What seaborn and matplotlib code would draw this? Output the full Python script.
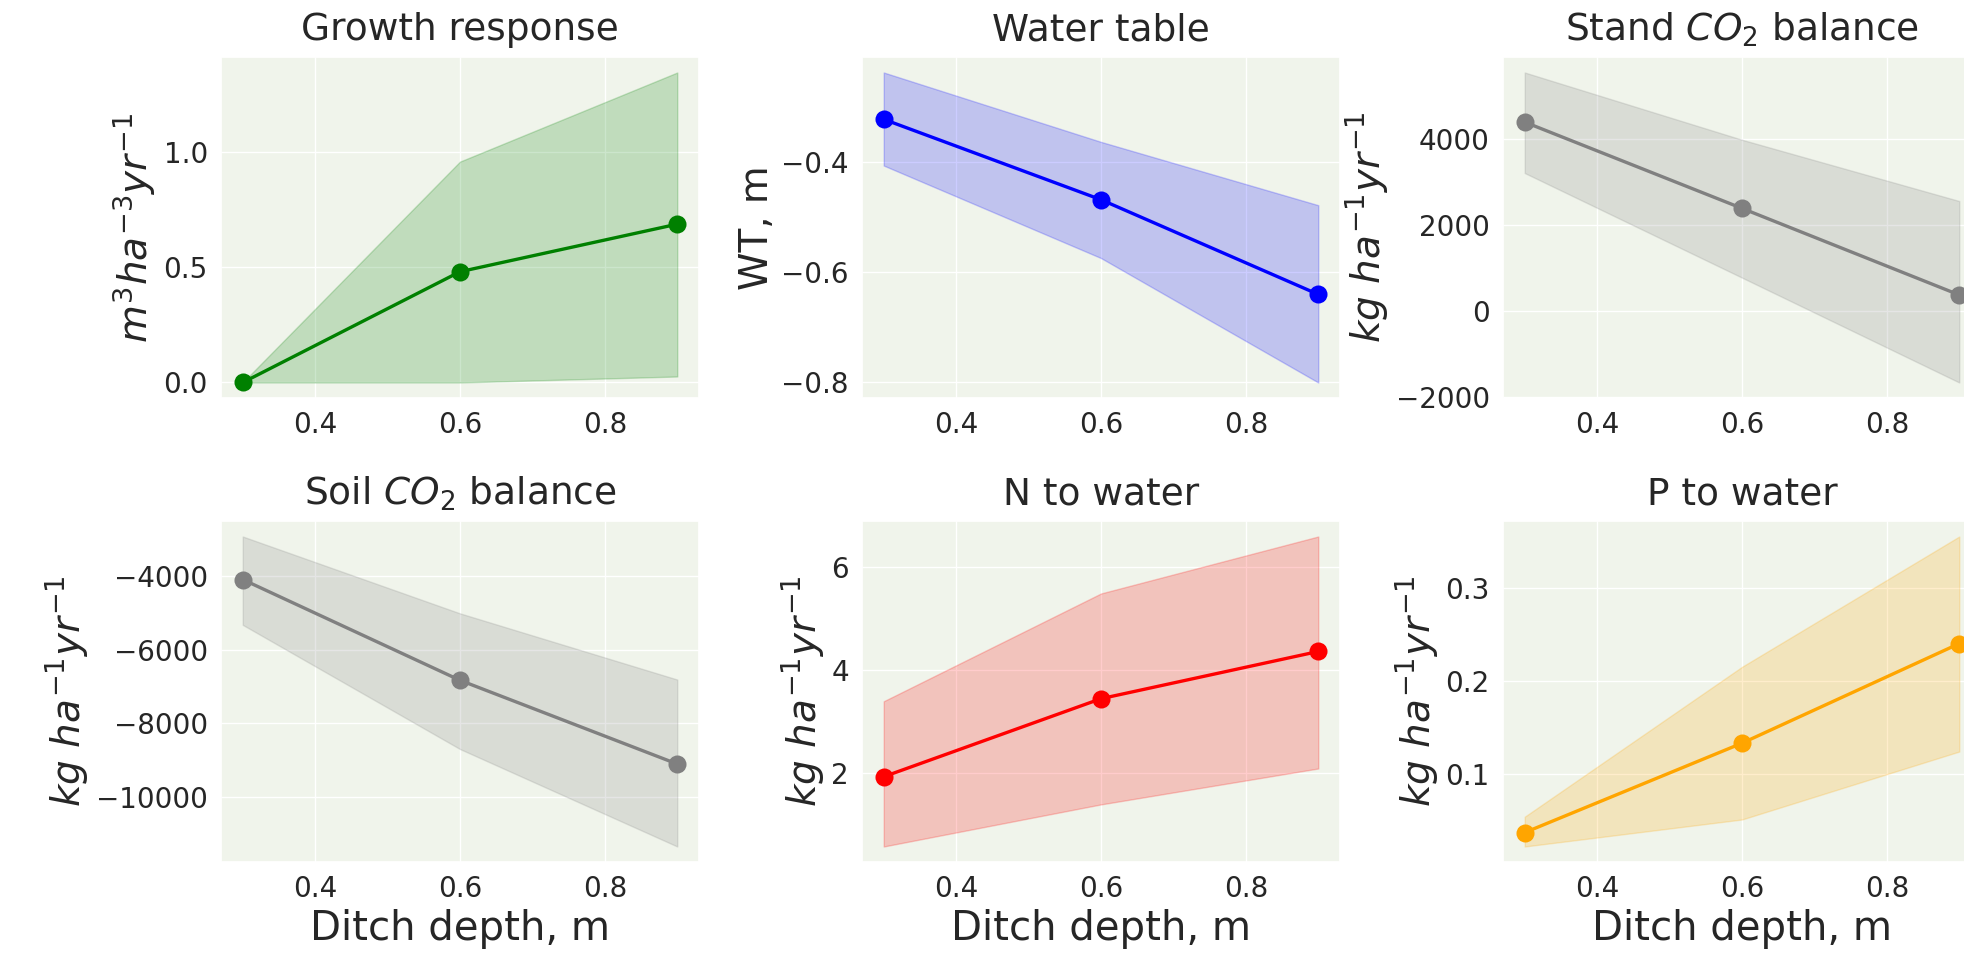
import numpy as np
import matplotlib
matplotlib.use("Agg")
import matplotlib.pyplot as plt
import seaborn as sns

# ── Data ──────────────────────────────────────────────────────────────────────
depth = [0.3, 0.6, 0.9]

growth_mean = [0.0, 0.48, 0.686]
growth_low  = [0.0, 0.0, 0.026]
growth_high = [0.0, 0.957, 1.343]

wt_mean = [-0.322, -0.468, -0.640]
wt_low  = [-0.406, -0.574, -0.800]
wt_high = [-0.237, -0.363, -0.478]

stand_mean = [4395, 2388, 372]
stand_low  = [3210, 775, -1666]
stand_high = [5550, 3985, 2558]

soil_mean = [-4090, -6830, -9107]
soil_low  = [-5323, -8700, -11350]
soil_high = [-2920, -5010, -6810]

n_mean = [1.92, 3.44, 4.36]
n_low  = [0.56, 1.38, 2.08]
n_high = [3.39, 5.49, 6.60]

p_mean = [0.037, 0.133, 0.240]
p_low  = [0.022, 0.051, 0.124]
p_high = [0.054, 0.215, 0.355]

KG = r"$kg\ ha^{-1} yr^{-1}$"
panels = [
    ("Growth response",        growth_mean, growth_low, growth_high, "green",  r"$m^3 ha^{-3} yr^{-1}$", 0.5),
    ("Water table",            wt_mean,     wt_low,     wt_high,     "blue",   "WT, m",                 0.2),
    ("Stand $CO_2$ balance",   stand_mean,  stand_low,  stand_high,  "grey",   KG,                      2000),
    ("Soil $CO_2$ balance",    soil_mean,   soil_low,   soil_high,   "grey",   KG,                      2000),
    ("N to water",             n_mean,      n_low,      n_high,      "red",    KG,                      2),
    ("P to water",             p_mean,      p_low,      p_high,      "orange", KG,                      0.1),
]

# ── Style ─────────────────────────────────────────────────────────────────────
sns.set_theme(style="darkgrid", rc={"axes.facecolor": "#f0f4eb"})
plt.rcParams["font.family"] = ["DejaVu Sans"]

W, H = 1964, 966
fig = plt.figure(figsize=(W / 100, H / 100), dpi=100)

# third column runs past the right edge, as in the original
col_left = [221, 862, 1503]
row_top = [57, 521]
ax_w, ax_h = 478, 341

for i, (title, mean, low, high, color, ylab, step) in enumerate(panels):
    r, c = divmod(i, 3)
    ax = fig.add_axes([col_left[c] / W, 1 - (row_top[r] + ax_h) / H, ax_w / W, ax_h / H])
    ax.fill_between(depth, low, high, color=color, alpha=0.2)
    sns.lineplot(x=depth, y=mean, color=color, marker="o", markersize=13,
                 markeredgewidth=0, linewidth=2.4, ax=ax)
    ax.set_xlim(0.27, 0.93)
    ax.set_xticks([0.4, 0.6, 0.8])
    ax.yaxis.set_major_locator(matplotlib.ticker.MultipleLocator(step))
    ax.tick_params(labelsize=20)
    ax.set_title(title, fontsize=27, pad=12)
    ax.set_ylabel(ylab, fontsize=28)
    if r == 1:
        ax.set_xlabel("Ditch depth, m", fontsize=29)

plt.savefig("out.png", dpi=100)
